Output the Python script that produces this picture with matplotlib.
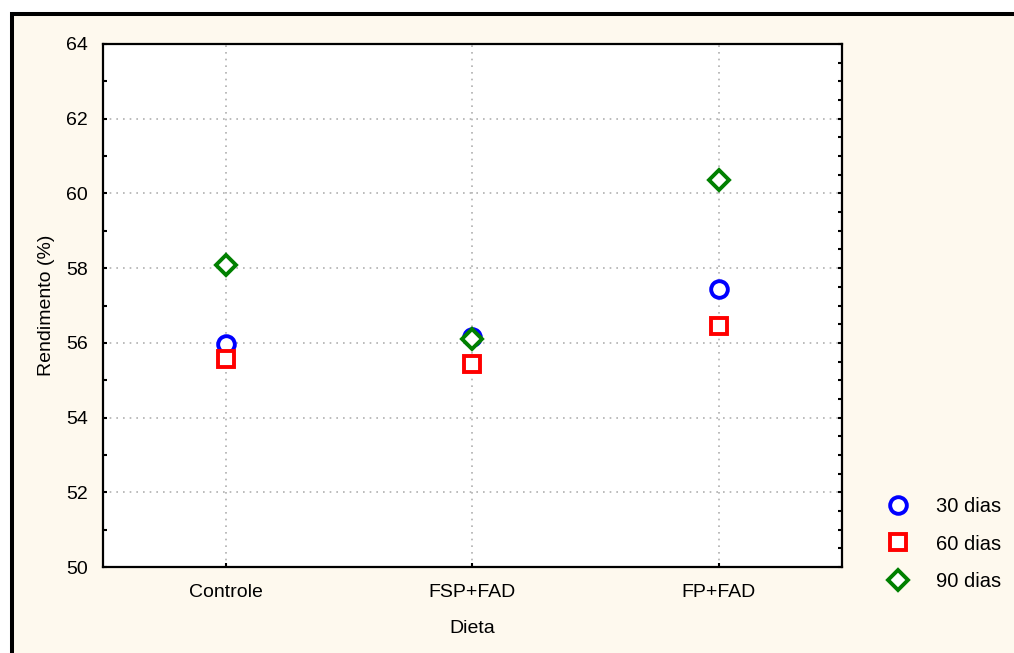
import matplotlib
matplotlib.use("Agg")
import matplotlib.pyplot as plt
from matplotlib.patches import Rectangle
from matplotlib.ticker import MultipleLocator
from matplotlib.lines import Line2D

categories = ["Controle", "FSP+FAD", "FP+FAD"]
series_names = ["30 dias", "60 dias", "90 dias"]
v30 = [55.97, 56.16, 57.44]
v60 = [55.57, 55.43, 56.45]
v90 = [58.08, 56.10, 60.36]
yticks = [50, 52, 54, 56, 58, 60, 62, 64]

plt.rcParams['font.family'] = ['Liberation Sans', 'DejaVu Sans']

W, H = 1014, 653
fig = plt.figure(figsize=(W / 100, H / 100), dpi=100)
fig.patch.set_facecolor("white")

cream = "#FEF9EE"
frame = Rectangle((11.5 / W, -0.2), 1.5, (H - 14) / H + 0.2,
                  transform=fig.transFigure, facecolor=cream,
                  edgecolor="black", linewidth=2.9, zorder=-10)
fig.patches.append(frame)

ax = fig.add_axes([103 / W, (H - 567) / H, (842 - 103) / W, (567 - 44) / H])
ax.set_facecolor("white")

x = list(range(len(categories)))
styles = [
    (v30, "o", "#0000FF", 12.0),
    (v60, "s", "#FF0000", 12.0),
    (v90, "D", "#008000", 9.8),
]
MEW = 2.8
for vals, m, c, ms in styles:
    ax.plot(x, vals, linestyle="none", marker=m, markersize=ms,
            markerfacecolor="white", markeredgecolor=c, markeredgewidth=MEW,
            zorder=3, clip_on=False)

ax.set_xlim(-0.5, 2.5)
ax.set_ylim(50, 64)
ax.set_xticks(x)
ax.set_xticklabels(categories)
ax.set_yticks(yticks)
ax.yaxis.set_minor_locator(MultipleLocator(1))

ax.grid(True, which="major", linestyle=(0, (1, 3)), color="#b0b0b0", linewidth=1.2)
ax.set_axisbelow(True)

for s in ax.spines.values():
    s.set_linewidth(1.6)
    s.set_color("black")

ax.tick_params(axis="both", which="both", direction="in", labelsize=14,
               length=3, width=1.5, color="black")
ax.tick_params(axis="y", which="major", pad=11, right=False)
ax.tick_params(axis="y", which="minor", right=False)
ax.tick_params(axis="x", which="major", pad=12, top=False)

# right spine ticks every 0.5
ax2 = ax.twinx()
ax2.set_ylim(50, 64)
ax2.yaxis.set_major_locator(MultipleLocator(0.5))
ax2.tick_params(axis="y", direction="in", length=3, width=1.5, labelright=False)
for s in ax2.spines.values():
    s.set_visible(False)

ax.set_xlabel("Dieta", fontsize=14, labelpad=14)
ax.set_ylabel("Rendimento (%)", fontsize=14, labelpad=8)

handles = [Line2D([], [], linestyle="none", marker=m, markersize=ms,
                  markerfacecolor="white", markeredgecolor=c, markeredgewidth=MEW)
           for _, m, c, ms in styles]
leg = fig.legend(handles, series_names, loc="center left",
                 bbox_to_anchor=(876 / W, (H - 544) / H), frameon=False,
                 fontsize=14.5, handlelength=1.2, handletextpad=1.3,
                 labelspacing=0.9, borderpad=0)

fig.savefig("out.png", dpi=100, facecolor="white")
